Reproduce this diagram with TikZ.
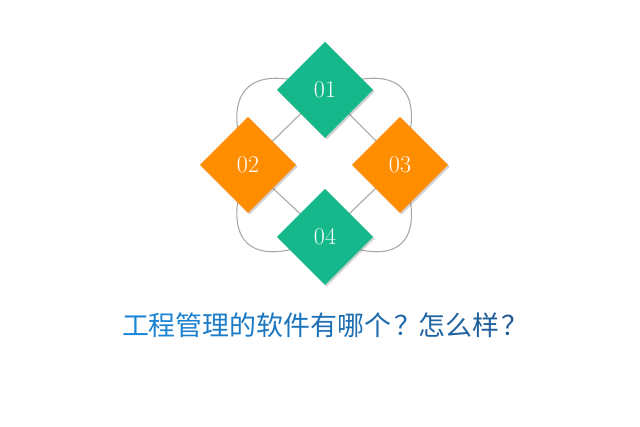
\documentclass[tikz,border=0pt]{standalone}
\usepackage{fontspec}
\newfontfamily\cjk{Noto Sans CJK SC}
\usetikzlibrary{shapes.geometric,calc,shadows,backgrounds}
\definecolor{tealg}{HTML}{14B88A}
\definecolor{orng}{HTML}{FF8D00}
\definecolor{lineg}{HTML}{A8A8A8}
\definecolor{tleft}{HTML}{1A86D8}
\definecolor{tright}{HTML}{1F5A94}
\newcommand\gch[2]{\textcolor{tright!#1!tleft}{#2}}
\newcommand\gq[1]{\textcolor{tright!#1!tleft}{\makebox[1em][l]{\hspace{0.1em}？}}}
\begin{document}
\begin{tikzpicture}[x=0.75pt,y=-0.75pt,
  dia/.style={diamond, minimum width=72pt, minimum height=72pt, inner sep=0pt, outer sep=0pt,
    text=white, font=\fontsize{18}{18}\selectfont,
    drop shadow={shadow xshift=1.2pt, shadow yshift=-1.2pt, opacity=0.18, fill=black}},
  loop/.style={draw=lineg, line width=0.8pt}]
\useasboundingbox (0,0) rectangle (640,427);
\node[dia, fill=tealg] (d1) at (325,90) {01};
\node[dia, fill=orng] (d2) at (248,165) {02};
\node[dia, fill=orng] (d3) at (400,165) {03};
\node[dia, fill=tealg] (d4) at (325,237) {04};
\begin{scope}[on background layer]
  \fill[white] (0,0) rectangle (640,427);
  \draw[loop] (d1.center) -- (d2.center) -- (d4.center) -- (d3.center) -- cycle;
  \draw[loop] (d1.center) .. controls ($(d1.center)+(-75,-31)$) and ($(d2.center)+(-30,-74)$) .. (d2.center);
  \draw[loop] (d1.center) .. controls ($(d1.center)+(75,-31)$) and ($(d3.center)+(30,-74)$) .. (d3.center);
  \draw[loop] (d4.center) .. controls ($(d4.center)+(-75,36)$) and ($(d2.center)+(-30,76)$) .. (d2.center);
  \draw[loop] (d4.center) .. controls ($(d4.center)+(75,36)$) and ($(d3.center)+(30,76)$) .. (d3.center);
\end{scope}
\node[font=\cjk\fontsize{20.2}{21}\selectfont, inner sep=0pt] (title) at (324,325)
  {\gch{0}{工}\gch{7}{程}\gch{14}{管}\gch{21}{理}\gch{28}{的}\gch{35}{软}\gch{42}{件}\gch{50}{有}\gch{57}{哪}\gch{64}{个}\gq{71}\gch{78}{怎}\gch{85}{么}\gch{92}{样}\gq{100}};
\end{tikzpicture}
\end{document}
